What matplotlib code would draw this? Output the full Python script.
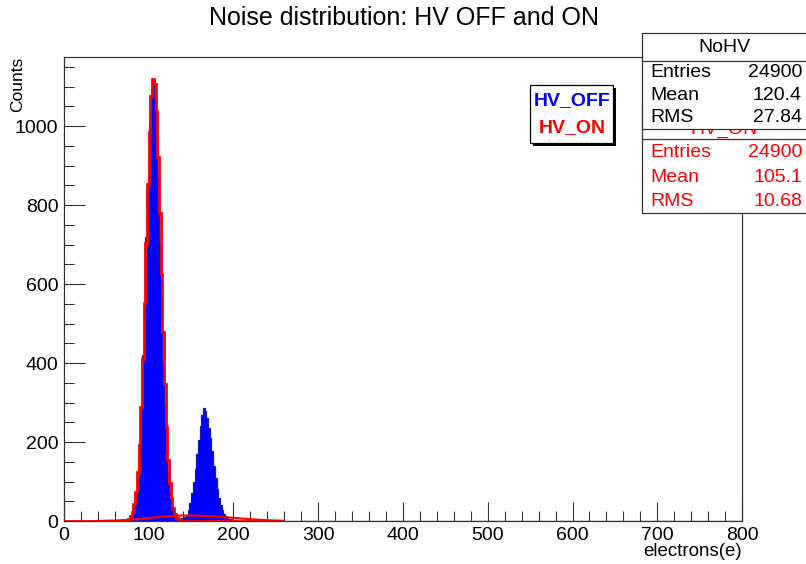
import numpy as np
import matplotlib
matplotlib.use("Agg")
import matplotlib.pyplot as plt
from matplotlib.patches import Rectangle
from matplotlib.lines import Line2D
from matplotlib.ticker import MultipleLocator

# ---------------- data ----------------
bin_width = 2
x_min, x_max = 0, 800
y_max = 1175

# HV_OFF (blue, filled) bin contents, first bin starts at 70
hvoff_start = 70
hvoff_values = [0, 1, 2, 3, 9, 18, 37, 72, 112, 195, 280, 420, 548, 720, 855, 1000,
                1070, 1118, 1065, 990, 870, 705, 566, 400, 292, 180, 122, 74, 45, 25,
                14, 8, 6, 4, 7, 5, 9, 14, 28, 45, 70, 98, 132, 170, 205, 240, 268,
                285, 278, 262, 236, 210, 176, 140, 110, 82, 58, 40, 27, 18, 12, 8,
                6, 4, 3, 2, 2, 1, 1, 1]

# HV_ON (red outline) bin contents, first bin starts at 76; histogram drawn 0..258
hvon_start = 76
hvon_end = 258
hvon_values = [6, 12, 23, 43, 74, 123, 193, 289, 409, 551, 704, 854, 984, 1077,
               1120, 1106, 1037, 923, 780, 626, 478, 346, 238, 155, 96, 57, 32,
               17, 8, 4, 2, 1]

# broad red fit curve
fit_x = [40, 60, 80, 100, 120, 140, 160, 180, 200, 220, 240, 258]
fit_y = [0.3, 1.2, 3.5, 7.5, 11.5, 14, 13.5, 11.5, 8, 4.5, 2, 0.8]

title = "Noise distribution: HV OFF and ON"
xlabel = "electrons(e)"
ylabel = "Counts"
stats1_title = "NoHV"
stats1 = [("Entries", "24900"), ("Mean", "120.4"), ("RMS", "27.84")]
stats2_title = "HV_ON"
stats2 = [("Entries", "24900"), ("Mean", "105.1"), ("RMS", "10.68")]
legend_labels = ["HV_OFF", "HV_ON"]

# ---------------- figure ----------------
W, H = 806, 564
fig = plt.figure(figsize=(W / 100, H / 100), dpi=100)
regular = ["Liberation Sans", "DejaVu Sans"]
plt.rcParams["font.family"] = regular


def fx(px):
    return px / W


def fy(py):
    return 1 - py / H


ax = fig.add_axes([fx(64), fy(521), (742 - 64) / W, (521 - 57) / H])

# blue histogram over full axis range
edges_full = np.arange(x_min, x_max + bin_width, bin_width)
blue = np.zeros(len(edges_full) - 1)
i0 = (hvoff_start - x_min) // bin_width
blue[i0:i0 + len(hvoff_values)] = hvoff_values
ax.stairs(blue, edges_full, fill=True, facecolor="#0000ff", edgecolor="#0000ff",
          lw=0, zorder=2)
ax.stairs(blue, edges_full, fill=False, color="#1c1ca8", lw=0.9, zorder=2.1)

# red histogram
edges_red = np.arange(x_min, hvon_end + bin_width, bin_width)
red = np.zeros(len(edges_red) - 1)
j0 = (hvon_start - x_min) // bin_width
red[j0:j0 + len(hvon_values)] = hvon_values
ax.stairs(red, edges_red, fill=False, color="#ff0000", lw=2.0, zorder=3)

ax.plot(fit_x, fit_y, color="#ff0000", lw=1.5, zorder=3.1)

ax.set_xlim(x_min, x_max)
ax.set_ylim(0, y_max)

ax.xaxis.set_major_locator(MultipleLocator(100))
ax.xaxis.set_minor_locator(MultipleLocator(20))
ax.yaxis.set_major_locator(MultipleLocator(200))
ax.yaxis.set_minor_locator(MultipleLocator(50))
ax.tick_params(which="both", direction="in", top=False, right=False, color="#333333")
ax.tick_params(which="major", axis="x", length=14, width=0.8, pad=4, labelsize=14)
ax.tick_params(which="minor", axis="x", length=7, width=0.8)
ax.tick_params(which="major", axis="y", length=15, width=0.8, pad=4, labelsize=14)
ax.tick_params(which="minor", axis="y", length=7.5, width=0.8)
for s in ax.spines.values():
    s.set_color("#333333")
    s.set_linewidth(0.9)

fig.text(fx(404), fy(18), title, ha="center", va="center", fontsize=18)
fig.text(fx(742), fy(552), xlabel, ha="right", va="center", fontsize=13.5)
fig.text(fx(18), fy(57), ylabel, ha="center", va="top", rotation=90,
         fontsize=12.5)

# ---------------- legend ----------------
fig.add_artist(Rectangle((fx(533), fy(146)), (613 - 530) / W, (143 - 85) / H,
                         transform=fig.transFigure, facecolor="black",
                         edgecolor="black", lw=0, zorder=10))
fig.add_artist(Rectangle((fx(530), fy(143)), (613 - 530) / W, (143 - 85) / H,
                         transform=fig.transFigure, facecolor="white",
                         edgecolor="black", lw=0.9, zorder=11))
fig.text(fx(572), fy(101), legend_labels[0], ha="center", va="center",
         fontsize=14, fontweight="bold", color="#0000ff", zorder=12)
fig.text(fx(572), fy(128), legend_labels[1], ha="center", va="center",
         fontsize=14, fontweight="bold", color="#ff0000", zorder=12)

# ---------------- stats boxes ----------------
bx0, bx1 = 642, 812
# second box (HV_ON), mostly hidden title
fig.add_artist(Rectangle((fx(bx0), fy(213)), (bx1 - bx0) / W, (213 - 105) / H,
                         transform=fig.transFigure, facecolor="white",
                         edgecolor="#333333", lw=0.9, zorder=20))
fig.text(fx(724), fy(133.5), stats2_title, ha="center", va="baseline", fontsize=14,
         color="#ff0000", zorder=21)
fig.add_artist(Line2D([fx(bx0), fx(bx1)], [fy(138.5), fy(138.5)],
                      transform=fig.transFigure, color="#333333", lw=0.9, zorder=22))
for k, (lab, val) in enumerate(stats2):
    yy = 153 + k * 24
    fig.text(fx(650), fy(yy), lab, ha="left", va="center", fontsize=14,
             color="#ff0000", zorder=21)
    fig.text(fx(802), fy(yy), val, ha="right", va="center", fontsize=14,
             color="#ff0000", zorder=21)

# first box (NoHV)
fig.add_artist(Rectangle((fx(bx0), fy(129)), (bx1 - bx0) / W, (129 - 33) / H,
                         transform=fig.transFigure, facecolor="white",
                         edgecolor="#333333", lw=0.9, zorder=30))
fig.text(fx(724), fy(47), stats1_title, ha="center", va="center", fontsize=14,
         color="black", zorder=31)
fig.add_artist(Line2D([fx(bx0), fx(bx1)], [fy(60.5), fy(60.5)],
                      transform=fig.transFigure, color="#333333", lw=0.9, zorder=31))
for k, (lab, val) in enumerate(stats1):
    yy = 73 + k * 22.5
    fig.text(fx(650), fy(yy), lab, ha="left", va="center", fontsize=14,
             color="black", zorder=31)
    fig.text(fx(802), fy(yy), val, ha="right", va="center", fontsize=14,
             color="black", zorder=31)

fig.savefig("out.png", dpi=100)
